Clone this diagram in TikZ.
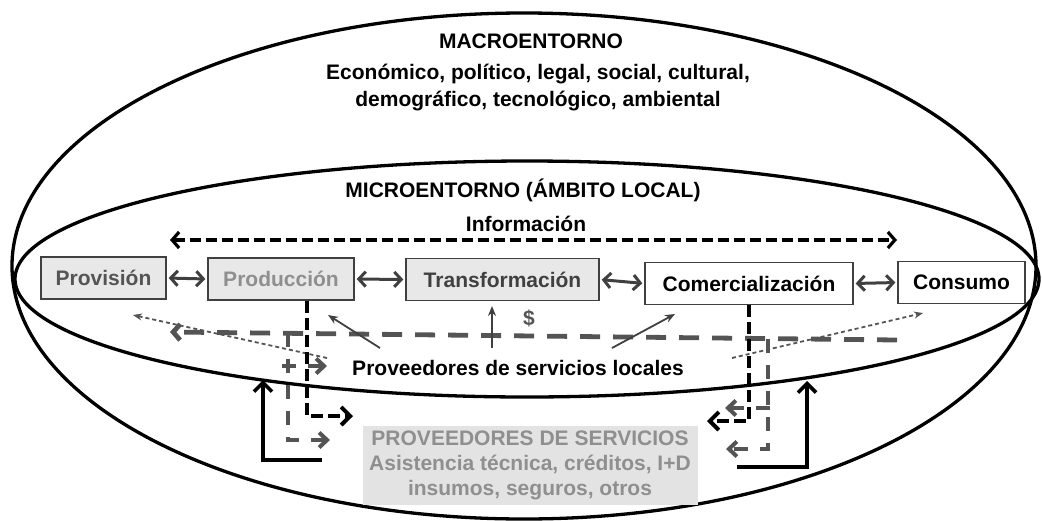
\documentclass[tikz,border=0pt]{standalone}
\usepackage{fontspec}
\setmainfont{Liberation Sans}
\usetikzlibrary{arrows.meta, positioning}

\definecolor{boxfill}{gray}{0.91}
\definecolor{darkline}{gray}{0.25}
\definecolor{midgray}{gray}{0.33}
\definecolor{lightgray}{gray}{0.56}

\tikzset{
    label/.style={font=\bfseries\fontsize{21}{25}\selectfont, anchor=base},
    stage/.style={draw=darkline, line width=1.4pt, fill=boxfill, minimum height=42pt,
        font=\bfseries\fontsize{21}{25}\selectfont},
    linkarrow/.style={{Straight Barb[length=7pt,width=15pt]}-{Straight Barb[length=7pt,width=15pt]},
        line width=3pt, draw=darkline, shorten >=2pt, shorten <=2pt},
    infoarrow/.style={{Straight Barb[length=7pt,width=16pt]}-{Straight Barb[length=7pt,width=16pt]},
        line width=3.2pt, dash pattern=on 11pt off 5pt},
    localflow/.style={-{Straight Barb[length=7pt,width=16pt]}, draw=midgray, line width=4.8pt,
        dash pattern=on 20pt off 13pt},
    branchflow/.style={-{Straight Barb[length=8pt,width=15pt]}, draw=midgray, line width=4pt,
        dash pattern=on 14pt off 12pt},
    serviceflow/.style={-{Straight Barb[length=9pt,width=18pt]}, line width=4pt,
        dash pattern=on 12pt off 5pt},
    returnflow/.style={-{Straight Barb[length=9pt,width=18pt]}, line width=3.6pt},
    support/.style={-{Stealth[length=10pt,width=8pt]}, draw=darkline, line width=1.8pt},
    tip/.style={-{Stealth[length=9pt,width=7pt]}, draw=midgray, line width=1.8pt, dash pattern=on 4pt off 3pt}
}

\begin{document}
\begin{tikzpicture}[x=1pt, y=-1pt]
    \useasboundingbox (0,0) rectangle (1042,520);

    % Macro and micro environment
    \draw[line width=3.3pt] (524,266) ellipse [x radius=512pt, y radius=253pt];
    \draw[line width=3.3pt] (527,279) ellipse [x radius=512pt, y radius=118pt];

    \node[label] (macro) at (531,48) {MACROENTORNO};
    \node[label] (macrolistA) at (538,79) {Económico, político, legal, social, cultural,};
    \node[label] (macrolistB) at (538,106) {demográfico, tecnológico, ambiental};
    \node[label] (micro) at (523,197) {MICROENTORNO (ÁMBITO LOCAL)};
    \node[label] (info) at (526,231) {Información};

    % Information flow
    \coordinate (infoL) at (170,240);
    \coordinate (infoR) at (897,240);
    \draw[infoarrow] (infoL) -- (infoR);

    % Chain stages
    \node[stage, minimum width=125pt, text=midgray] (prov) at (103.5,278) {Provisión};
    \node[stage, minimum width=146pt, text=lightgray] (prod) at (281,279) {Producción};
    \node[stage, minimum width=193pt, text=darkline] (trans) at (502.5,279.5) {Transformación};
    \node[stage, minimum width=208pt, fill=white, text=black] (comer) at (749,283.5) {Comercialización\hspace{16pt}};
    \node[stage, minimum width=127pt, fill=white, text=black] (cons) at (961.5,282.5) {Consumo};

    \draw[linkarrow] (prov.east) -- (prod.west);
    \draw[linkarrow] (prod.east) -- (trans.west);
    \draw[linkarrow] (trans.east) -- (comer.west);
    \draw[linkarrow] (comer.east) -- (cons.west);

    % Local service providers
    \node[font=\bfseries\fontsize{21}{25}\selectfont, text=midgray] (money) at (529,318) {\$};
    \node[label] (local) at (518,375) {Proveedores de servicios locales};

    \coordinate (locL) at (170,332);
    \coordinate (locR) at (897,340);
    \draw[localflow] (locR) -- (locL);

    \coordinate (sA) at (380,348);
    \coordinate (sAt) at (328,315);
    \coordinate (sB) at (492,348);
    \coordinate (sBt) at (492,306);
    \coordinate (sC) at (612,348);
    \coordinate (sCt) at (675,314);
    \draw[support] (sA) -- (sAt);
    \draw[support] (sB) -- (sBt);
    \draw[support] (sC) -- (sCt);

    \coordinate (dA) at (327,358);
    \coordinate (dAt) at (133,315);
    \coordinate (dB) at (732,358);
    \coordinate (dBt) at (923,313);
    \draw[tip] (dA) -- (dAt);
    \draw[tip] (dB) -- (dBt);

    % Branches towards outer providers
    \coordinate (brL) at (288,333);
    \coordinate (brL1) at (282,366);
    \coordinate (outL1) at (327,366);
    \coordinate (outL2) at (330,440);
    \draw[branchflow] (brL) |- (outL2);
    \draw[branchflow] (brL1) -- (outL1);

    \coordinate (brR) at (768,339);
    \coordinate (brR1) at (770,408);
    \coordinate (outR1) at (725,408);
    \coordinate (outR2) at (726,449);
    \draw[branchflow] (brR) |- (outR2);
    \draw[branchflow] (brR1) -- (outR1);

    % Service providers
    \node[fill=gray!22, text=lightgray, font=\bfseries\fontsize{21}{25}\selectfont,
        align=center, minimum width=335pt, minimum height=79pt, inner sep=2pt] (srv) at (530,465)
        {PROVEEDORES DE SERVICIOS\\Asistencia técnica, créditos, I+D\\insumos, seguros, otros};

    \coordinate (toSrvL) at (353,416);
    \coordinate (toSrvR) at (707,421);
    \draw[serviceflow] ([xshift=26pt]prod.south) |- (toSrvL);
    \draw[serviceflow] (comer.south) |- (toSrvR);

    \coordinate (baseL) at (322,460);
    \coordinate (upL) at (263,380);
    \coordinate (baseR) at (737,467);
    \coordinate (upR) at (807,381);
    \draw[returnflow] (baseL) -| (upL);
    \draw[returnflow] (baseR) -| (upR);
\end{tikzpicture}
\end{document}
